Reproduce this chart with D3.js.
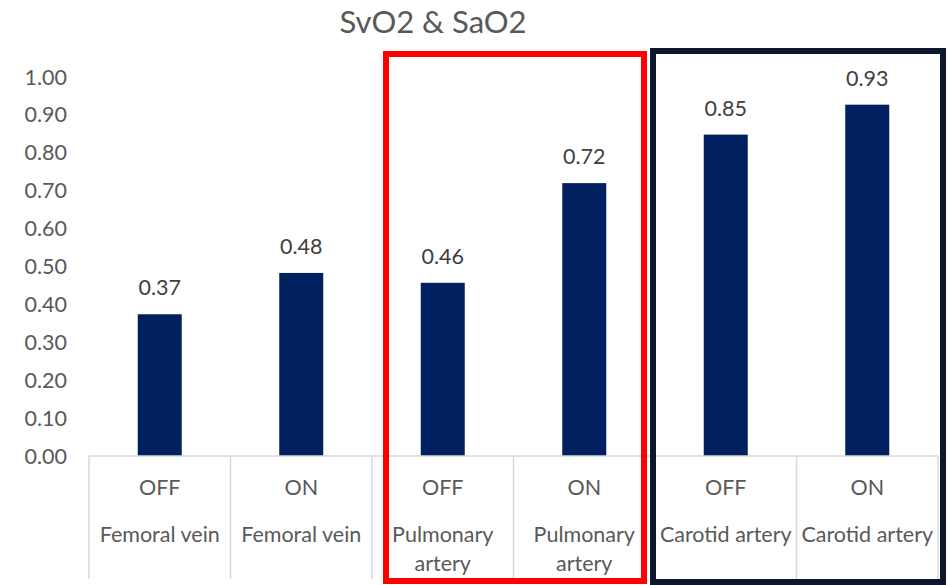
<!DOCTYPE html>
<html>
<meta charset="utf-8">
<style type="text/css">
  body { margin: 0; background: #fff; }
  text { font-family: Lato, "Open Sans", sans-serif; fill: #595959; }
</style>
<body>
<div id="chart"></div>
<script src="https://d3js.org/d3.v7.min.js"></script>
<script>
  // chart data
  const states = ["OFF", "ON", "OFF", "ON", "OFF", "ON"];
  const sites = ["Femoral vein", "Femoral vein", "Pulmonary artery", "Pulmonary artery", "Carotid artery", "Carotid artery"];
  const values = [0.374, 0.483, 0.457, 0.72, 0.848, 0.927];
  const yTicks = [0, 0.1, 0.2, 0.3, 0.4, 0.5, 0.6, 0.7, 0.8, 0.9, 1.0];

  const width = 951, height = 585;
  const plotLeft = 89, plotRight = 938, plotTop = 77, base = 456;
  const fs = "21.5px";

  const svg = d3.select("#chart").append("svg")
    .attr("width", width)
    .attr("height", height);

  const x = d3.scaleBand()
    .domain(d3.range(values.length))
    .range([plotLeft, plotRight])
    .paddingInner(0)
    .paddingOuter(0);

  const y = d3.scaleLinear()
    .domain([0, 1])
    .range([base, plotTop]);

  // title
  svg.append("text")
    .attr("x", 433)
    .attr("y", 33)
    .attr("text-anchor", "middle")
    .style("font-size", "31px")
    .text("SvO2 & SaO2");

  // y tick labels
  svg.selectAll(".ytick")
    .data(yTicks)
    .enter()
    .append("text")
    .attr("x", 67)
    .attr("y", d => y(d) + 7.5)
    .attr("text-anchor", "end")
    .style("font-size", fs)
    .text(d => d3.format(".2f")(d));

  // bars
  const bw = 44;
  svg.selectAll(".bar")
    .data(values)
    .enter()
    .append("rect")
    .attr("x", (d, i) => x(i) + x.bandwidth() / 2 - bw / 2)
    .attr("y", d => y(d))
    .attr("width", bw)
    .attr("height", d => base - y(d))
    .style("fill", "#002060");

  // value labels
  svg.selectAll(".val")
    .data(values)
    .enter()
    .append("text")
    .attr("x", (d, i) => x(i) + x.bandwidth() / 2)
    .attr("y", d => y(d) - 19)
    .attr("text-anchor", "middle")
    .style("font-size", fs)
    .style("fill", "#404040")
    .text(d => d3.format(".2f")(d));

  // category axis grid
  svg.append("line")
    .attr("x1", plotLeft).attr("x2", plotRight)
    .attr("y1", base).attr("y2", base)
    .style("stroke", "#d9d9d9").style("stroke-width", 1.5);

  svg.selectAll(".sep")
    .data(d3.range(values.length + 1))
    .enter()
    .append("line")
    .attr("x1", i => i < values.length ? x(i) : plotRight)
    .attr("x2", i => i < values.length ? x(i) : plotRight)
    .attr("y1", base)
    .attr("y2", 579)
    .style("stroke", "#d9d9d9").style("stroke-width", 1.5);

  // category labels
  svg.selectAll(".state")
    .data(states)
    .enter()
    .append("text")
    .attr("x", (d, i) => x(i) + x.bandwidth() / 2)
    .attr("y", 495)
    .attr("text-anchor", "middle")
    .style("font-size", fs)
    .text(d => d);

  svg.selectAll(".site")
    .data(sites)
    .enter()
    .append("text")
    .attr("x", (d, i) => x(i) + x.bandwidth() / 2)
    .attr("y", 542)
    .attr("text-anchor", "middle")
    .style("font-size", fs)
    .each(function (d) {
      const t = d3.select(this);
      const cx = t.attr("x");
      // wrap long labels like Excel does
      const lines = d === "Pulmonary artery" ? ["Pulmonary", "artery"] : [d];
      lines.forEach((ln, k) => {
        t.append("tspan").attr("x", cx).attr("dy", k === 0 ? 0 : 29).text(ln);
      });
    });

  // highlight boxes
  svg.append("rect")
    .attr("x", 386).attr("y", 54)
    .attr("width", 258).attr("height", 527)
    .style("fill", "none").style("stroke", "#ff0000").style("stroke-width", 6);

  svg.append("rect")
    .attr("x", 653).attr("y", 51)
    .attr("width", 290).attr("height", 531)
    .style("fill", "none").style("stroke", "#0c172b").style("stroke-width", 6);
</script>
</body>
</html>
